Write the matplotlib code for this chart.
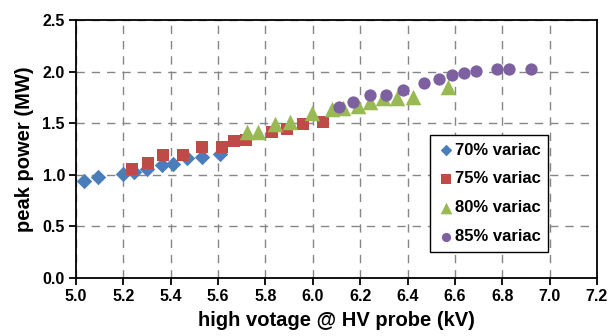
import matplotlib
matplotlib.use("Agg")
import matplotlib.pyplot as plt
from matplotlib.ticker import MultipleLocator, FormatStrFormatter

plt.rcParams['font.family'] = ['Liberation Sans', 'DejaVu Sans']
plt.rcParams['font.weight'] = 'bold'

x70 = [5.035, 5.094, 5.197, 5.246, 5.301, 5.362, 5.409, 5.468, 5.531, 5.608]
y70 = [0.943, 0.977, 1.008, 1.024, 1.053, 1.095, 1.105, 1.160, 1.175, 1.202]

x75 = [5.235, 5.303, 5.369, 5.451, 5.531, 5.616, 5.669, 5.718, 5.827, 5.890, 5.960, 6.042]
y75 = [1.053, 1.111, 1.192, 1.192, 1.266, 1.272, 1.330, 1.337, 1.412, 1.444, 1.489, 1.509]

x80 = [5.721, 5.768, 5.840, 5.904, 5.998, 6.080, 6.127, 6.190, 6.242, 6.298, 6.355, 6.425, 6.573]
y80 = [1.418, 1.412, 1.489, 1.509, 1.602, 1.635, 1.651, 1.665, 1.708, 1.741, 1.745, 1.757, 1.848]

x85 = [6.112, 6.169, 6.242, 6.310, 6.380, 6.470, 6.531, 6.587, 6.640, 6.690, 6.780, 6.828, 6.921]
y85 = [1.654, 1.708, 1.776, 1.776, 1.822, 1.892, 1.925, 1.967, 1.984, 2.006, 2.022, 2.022, 2.022]

labels = ['70% variac', '75% variac', '80% variac', '85% variac']
colors = ['#4A7EBB', '#BE4B48', '#98B954', '#7D60A0']

fig = plt.figure(figsize=(6.11, 3.36), dpi=100)
ax = fig.add_axes([0.1244, 0.1726, 0.977 - 0.1244, 0.9405 - 0.1726])

ax.scatter(x70, y70, marker='D', s=62, color=colors[0], label=labels[0], zorder=3, linewidths=0)
ax.scatter(x75, y75, marker='s', s=78, color=colors[1], label=labels[1], zorder=3, linewidths=0)
ax.scatter(x80, y80, marker='^', s=125, color=colors[2], label=labels[2], zorder=3, linewidths=0)
ax.scatter(x85, y85, marker='o', s=78, color=colors[3], label=labels[3], zorder=4, linewidths=0)

ax.set_xlim(5.0, 7.2)
ax.set_ylim(0.0, 2.5)
ax.xaxis.set_major_locator(MultipleLocator(0.2))
ax.yaxis.set_major_locator(MultipleLocator(0.5))
ax.xaxis.set_major_formatter(FormatStrFormatter('%.1f'))
ax.yaxis.set_major_formatter(FormatStrFormatter('%.1f'))

ax.grid(True, color='#868686', linestyle=(0, (6, 5)), linewidth=1.0, zorder=0)
ax.set_axisbelow(True)
for sp in ax.spines.values():
    sp.set_linewidth(1.3)
    sp.set_color('black')

ax.tick_params(axis='both', direction='out', length=5, width=1.3, labelsize=11.5, pad=3)
for lab in ax.get_xticklabels() + ax.get_yticklabels():
    lab.set_fontweight('bold')

ax.set_xlabel('high votage @ HV probe (kV)', fontsize=14.5, fontweight='bold', labelpad=5)
ax.set_ylabel('peak power (MW)', fontsize=14.5, fontweight='bold', labelpad=6)

leg = ax.legend(loc='upper left', bbox_to_anchor=(0.679, 0.554), frameon=True, fancybox=False,
                handletextpad=0.05, handlelength=1.0, borderpad=0.45, labelspacing=0.83,
                scatterpoints=1, markerscale=0.75, borderaxespad=0,
                prop={'weight': 'bold', 'size': 12})
leg.get_frame().set_edgecolor('black')
leg.get_frame().set_linewidth(1.0)
leg.get_frame().set_alpha(1.0)

fig.savefig('out.png', dpi=100)
